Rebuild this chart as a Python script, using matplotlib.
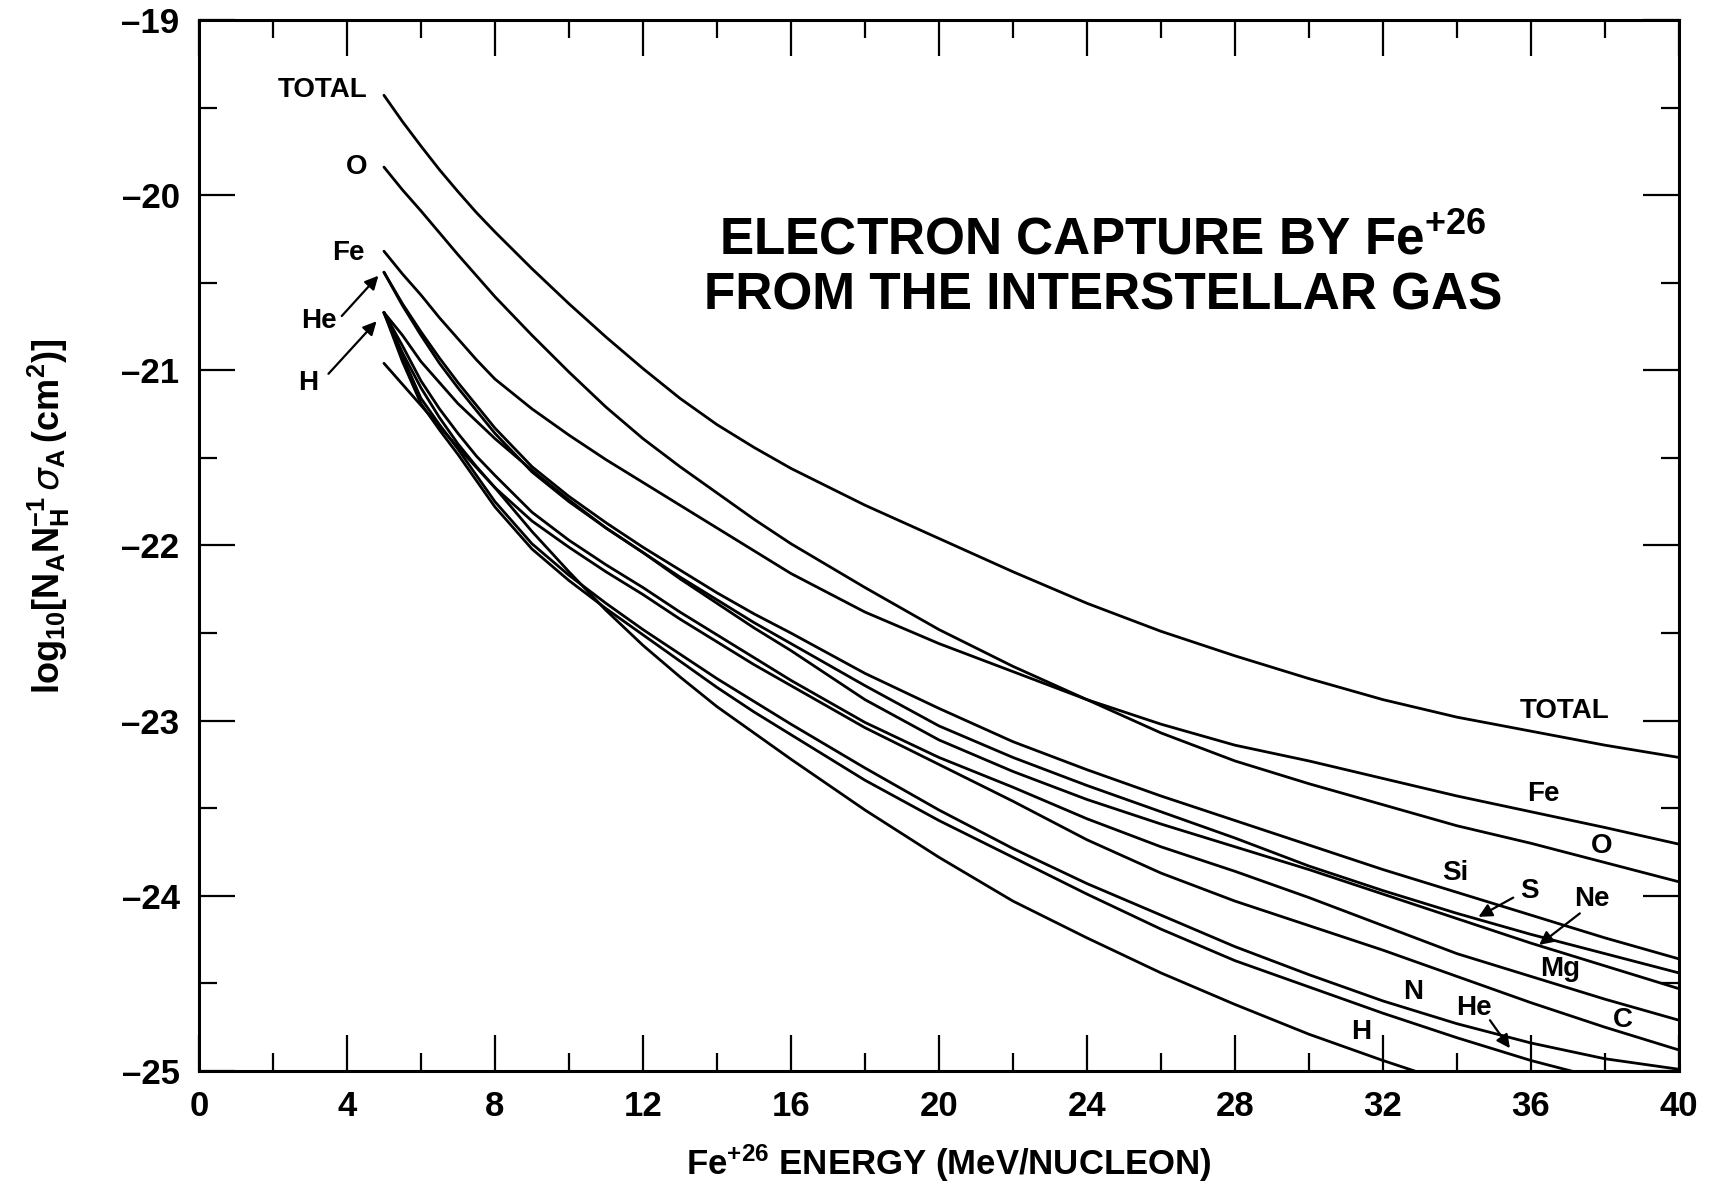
import matplotlib
matplotlib.use('Agg')
import matplotlib.pyplot as plt

E = [5, 5.5, 6, 6.5, 7, 7.5, 8, 9, 10, 11, 12, 13, 14, 15, 16, 18, 20,
     22, 24, 26, 28, 30, 32, 34, 36, 38, 40]

total = [-19.43, -19.58, -19.72, -19.855, -19.98, -20.10, -20.21, -20.42, -20.62, -20.81,
         -20.99, -21.16, -21.31, -21.44, -21.56, -21.77, -21.96, -22.15, -22.33, -22.49,
         -22.63, -22.76, -22.88, -22.98, -23.06, -23.14, -23.21]
oxy = [-19.84, -19.97, -20.09, -20.215, -20.34, -20.46, -20.58, -20.80, -21.01, -21.21,
       -21.39, -21.55, -21.70, -21.85, -21.99, -22.24, -22.48, -22.69, -22.88, -23.07,
       -23.23, -23.36, -23.48, -23.60, -23.70, -23.81, -23.92]
iron = [-20.32, -20.45, -20.57, -20.70, -20.82, -20.94, -21.05, -21.22, -21.37, -21.51,
        -21.64, -21.77, -21.90, -22.03, -22.16, -22.38, -22.56, -22.72, -22.88, -23.02,
        -23.14, -23.23, -23.33, -23.43, -23.52, -23.61, -23.705]
si = [-20.44, -20.62, -20.78, -20.93, -21.07, -21.20, -21.33, -21.55, -21.72, -21.87,
      -22.01, -22.14, -22.27, -22.39, -22.50, -22.73, -22.93, -23.12, -23.28, -23.43,
      -23.57, -23.71, -23.85, -23.98, -24.11, -24.24, -24.36]
sul = [-20.44, -20.63, -20.80, -20.96, -21.10, -21.23, -21.36, -21.58, -21.75, -21.90,
       -22.04, -22.18, -22.31, -22.44, -22.56, -22.80, -23.03, -23.21, -23.37, -23.52,
       -23.67, -23.83, -23.97, -24.10, -24.22, -24.33, -24.44]
neon = [-20.67, -20.80, -20.95, -21.07, -21.19, -21.29, -21.39, -21.57, -21.74, -21.90,
        -22.04, -22.19, -22.33, -22.47, -22.60, -22.88, -23.11, -23.29, -23.45, -23.59,
        -23.72, -23.85, -23.99, -24.13, -24.27, -24.40, -24.53]
mag = [-20.67, -20.86, -21.06, -21.22, -21.36, -21.49, -21.60, -21.81, -21.97, -22.11,
       -22.24, -22.38, -22.51, -22.64, -22.77, -23.01, -23.21, -23.38, -23.56, -23.72,
       -23.86, -24.01, -24.17, -24.33, -24.46, -24.59, -24.71]
carb = [-20.67, -20.90, -21.10, -21.27, -21.42, -21.55, -21.67, -21.86, -22.01, -22.15,
        -22.28, -22.42, -22.55, -22.68, -22.80, -23.04, -23.25, -23.46, -23.68, -23.87,
        -24.03, -24.17, -24.31, -24.46, -24.61, -24.75, -24.88]
nit = [-20.67, -20.92, -21.16, -21.31, -21.45, -21.60, -21.75, -21.99, -22.17, -22.33,
       -22.48, -22.62, -22.76, -22.89, -23.02, -23.27, -23.51, -23.73, -23.93, -24.11,
       -24.29, -24.45, -24.60, -24.73, -24.84, -24.93, -24.99]
hel = [-20.67, -20.95, -21.19, -21.34, -21.48, -21.63, -21.78, -22.02, -22.20, -22.36,
       -22.51, -22.66, -22.81, -22.95, -23.08, -23.34, -23.57, -23.78, -23.99, -24.19,
       -24.37, -24.52, -24.67, -24.81, -24.94, -25.05]
hyd = [-20.96, -21.08, -21.20, -21.32, -21.44, -21.555, -21.67, -21.92, -22.15, -22.37,
       -22.57, -22.75, -22.92, -23.07, -23.22, -23.51, -23.78, -24.03, -24.24, -24.44,
       -24.62, -24.79, -24.94, -25.08]

curves = [total, oxy, iron, si, sul, neon, mag, carb, nit, hel, hyd]

x_ticks = list(range(0, 41, 4))
y_ticks = list(range(-25, -18))

BOLD = 'Liberation Sans'
NARROW = ['Liberation Sans Narrow', 'Liberation Sans']

fig = plt.figure(figsize=(17.21, 11.87), dpi=100)
ax = fig.add_axes([0.1156, 0.0977, 0.86, 0.8855])

for vv in curves:
    ax.plot(E[:len(vv)], vv, color='black', lw=2.0, solid_capstyle='round',
            solid_joinstyle='round')

ax.set_xlim(0, 40)
ax.set_ylim(-25, -19)
ax.set_xticks(x_ticks)
ax.set_xticklabels([str(t) for t in x_ticks], family=NARROW, fontweight='bold', fontsize=25)
ax.set_xticks(range(2, 40, 4), minor=True)
ax.set_yticks(y_ticks)
ax.set_yticklabels(['\u2013%d' % abs(t) for t in y_ticks], family=BOLD, fontweight='bold', fontsize=25)
ax.set_yticks([t + 0.5 for t in y_ticks[:-1]], minor=True)
ax.tick_params(which='both', direction='in', top=True, right=True, width=1.6, color='black')
ax.tick_params(which='major', length=26)
ax.tick_params(which='minor', length=13)
ax.tick_params(axis='x', pad=14)
ax.tick_params(axis='y', pad=14)
for s in ax.spines.values():
    s.set_linewidth(2.2)

lab = dict(family=BOLD, fontweight='bold', fontsize=20, color='black')

# left-hand labels
ax.text(4.55, -19.40, 'TOTAL', ha='right', va='center', **lab)
ax.text(4.55, -19.84, 'O', ha='right', va='center', **lab)
ax.text(4.49, -20.33, 'Fe', ha='right', va='center', **lab)
ax.text(3.72, -20.72, 'He', ha='right', va='center', **lab)
ax.text(3.22, -21.07, 'H', ha='right', va='center', **lab)

# right-hand labels
ax.text(36.92, -22.945, 'TOTAL', ha='center', va='center', **lab)
ax.text(36.33, -23.42, 'Fe', ha='center', va='center', **lab)
ax.text(37.91, -23.715, 'O', ha='center', va='center', **lab)
ax.text(33.95, -23.87, 'Si', ha='center', va='center', **lab)
ax.text(35.95, -23.97, 'S', ha='center', va='center', **lab)
ax.text(37.64, -24.02, 'Ne', ha='center', va='center', **lab)
ax.text(36.78, -24.42, 'Mg', ha='center', va='center', **lab)
ax.text(38.48, -24.71, 'C', ha='center', va='center', **lab)
ax.text(32.82, -24.55, 'N', ha='center', va='center', **lab)
ax.text(34.46, -24.64, 'He', ha='center', va='center', **lab)
ax.text(31.41, -24.78, 'H', ha='center', va='center', **lab)

arr = dict(arrowstyle='-|>', lw=1.6, color='black', mutation_scale=20, shrinkA=0, shrinkB=0)
ax.annotate('', xy=(4.85, -20.46), xytext=(3.86, -20.69), arrowprops=arr)
ax.annotate('', xy=(4.80, -20.72), xytext=(3.50, -21.02), arrowprops=arr)
ax.annotate('', xy=(34.58, -24.12), xytext=(35.52, -24.01), arrowprops=arr)
ax.annotate('', xy=(36.22, -24.28), xytext=(37.32, -24.10), arrowprops=arr)
ax.annotate('', xy=(35.43, -24.87), xytext=(34.89, -24.71), arrowprops=arr)

# title inside the plot
ttl = dict(family=BOLD, fontweight='bold', fontsize=37, ha='center', va='baseline')
ax.text(24.43, -20.338, r'ELECTRON CAPTURE BY Fe$\mathregular{^{+26}}$', **ttl)
ax.text(24.43, -20.651, 'FROM THE INTERSTELLAR GAS', **ttl)

fig.text(0.0285, 0.565,
         r'$\mathregular{log_{10}[N_AN_H^{-1}}\,\sigma_\mathregular{A}\,\mathregular{(cm^2)]}$',
         rotation=90, ha='center', va='center', family=BOLD, fontweight='bold', fontsize=26)
fig.text(0.5514, 0.010, r'Fe$\mathregular{^{+26}}$ ENERGY (MeV/NUCLEON)',
         ha='center', va='baseline', family=NARROW, fontweight='bold', fontsize=25)

fig.savefig('out.png', dpi=100, facecolor='white')
